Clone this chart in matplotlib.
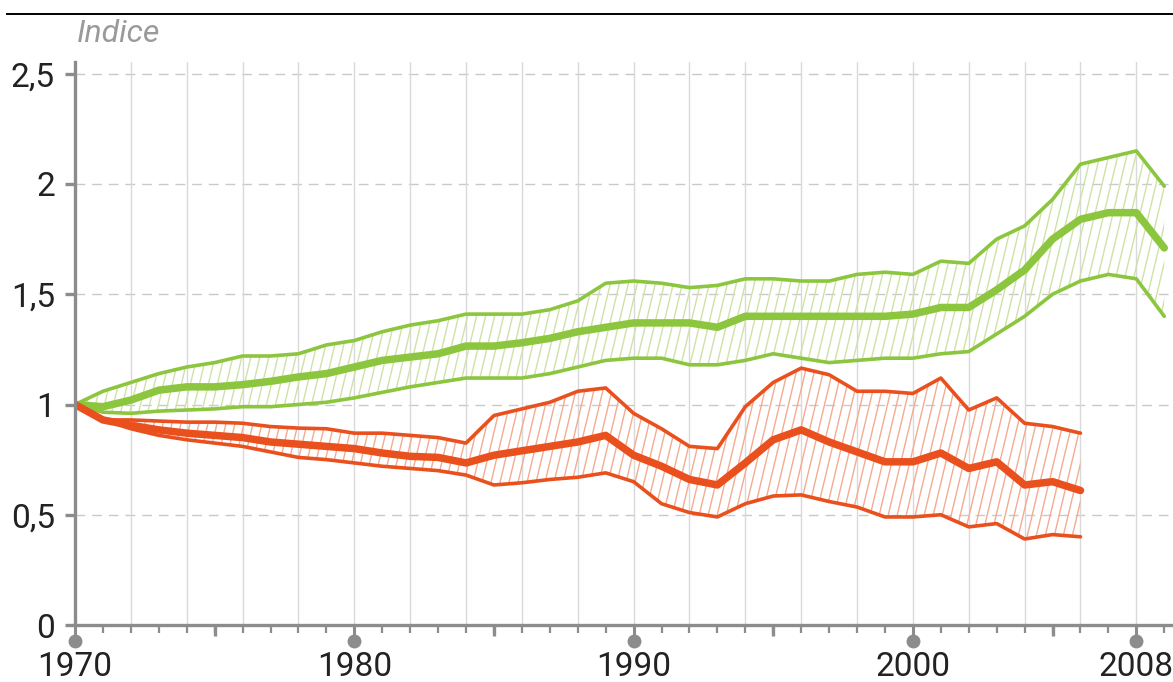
import numpy as np
import matplotlib
matplotlib.use("Agg")
import matplotlib.pyplot as plt
from matplotlib.collections import LineCollection
from matplotlib.lines import Line2D

# ---------------- data ----------------
years_green = list(range(1970, 2010))
green_mid = [1.00, 0.99, 1.02, 1.065, 1.08, 1.08, 1.09, 1.105, 1.125, 1.14,
             1.17, 1.20, 1.215, 1.23, 1.265, 1.265, 1.28, 1.30, 1.33, 1.35,
             1.37, 1.37, 1.37, 1.35, 1.40, 1.40, 1.40, 1.40, 1.40, 1.40,
             1.41, 1.44, 1.44, 1.52, 1.61, 1.75, 1.84, 1.87, 1.87, 1.71]
green_up = [1.00, 1.06, 1.10, 1.14, 1.17, 1.19, 1.22, 1.22, 1.23, 1.27,
            1.29, 1.33, 1.36, 1.38, 1.41, 1.41, 1.41, 1.43, 1.47, 1.55,
            1.56, 1.55, 1.53, 1.54, 1.57, 1.57, 1.56, 1.56, 1.59, 1.60,
            1.59, 1.65, 1.64, 1.75, 1.81, 1.93, 2.09, 2.12, 2.15, 1.99]
green_lo = [1.00, 0.965, 0.96, 0.97, 0.975, 0.98, 0.99, 0.99, 1.00, 1.01,
            1.03, 1.055, 1.08, 1.10, 1.12, 1.12, 1.12, 1.14, 1.17, 1.20,
            1.21, 1.21, 1.18, 1.18, 1.20, 1.23, 1.21, 1.19, 1.20, 1.21,
            1.21, 1.23, 1.24, 1.32, 1.40, 1.50, 1.56, 1.59, 1.57, 1.40]

years_red = list(range(1970, 2007))
red_up = [1.00, 0.93, 0.93, 0.925, 0.92, 0.92, 0.915, 0.90, 0.893, 0.89,
          0.87, 0.87, 0.86, 0.85, 0.825, 0.95, 0.98, 1.01, 1.06, 1.075,
          0.96, 0.89, 0.81, 0.80, 0.99, 1.10, 1.165, 1.135, 1.06, 1.06,
          1.05, 1.12, 0.975, 1.03, 0.915, 0.90, 0.87]
red_mid = [1.00, 0.93, 0.906, 0.885, 0.87, 0.86, 0.85, 0.83, 0.82, 0.81,
           0.80, 0.78, 0.765, 0.76, 0.735, 0.77, 0.79, 0.81, 0.83, 0.86,
           0.77, 0.72, 0.66, 0.635, 0.735, 0.84, 0.885, 0.83, 0.785, 0.74,
           0.74, 0.78, 0.71, 0.74, 0.635, 0.65, 0.61]
red_lo = [1.00, 0.93, 0.89, 0.86, 0.84, 0.825, 0.81, 0.785, 0.76, 0.75,
          0.735, 0.72, 0.71, 0.70, 0.68, 0.635, 0.645, 0.66, 0.67, 0.69,
          0.65, 0.55, 0.51, 0.49, 0.55, 0.585, 0.59, 0.56, 0.535, 0.49,
          0.49, 0.50, 0.445, 0.46, 0.39, 0.41, 0.40]

x_major = [1970, 1980, 1990, 2000, 2008]
x_major_labels = ["1970", "1980", "1990", "2000", "2008"]
x_mid = [1975, 1985, 1995, 2005]
y_ticks = [0, 0.5, 1, 1.5, 2, 2.5]
y_labels = ["0", "0,5", "1", "1,5", "2", "2,5"]
y_title = "Indice"

# ---------------- style ----------------
GREEN = "#8cc63e"
GREEN_H = "#cde3a6"
RED = "#e9501e"
RED_H = "#f5ab90"
AXC = "#8c8c8c"
FONT = "Roboto"
TXT = "#222222"

W, H = 1173, 682
fig = plt.figure(figsize=(W / 100, H / 100), dpi=100)
ax_l, ax_r, ax_t, ax_b = 75, 1173, 62, 625
ax = fig.add_axes([ax_l / W, 1 - ax_b / H, (ax_r - ax_l) / W, (ax_b - ax_t) / H])
xmin = 1970
xmax = 1970 + (ax_r - ax_l) / 27.93
ymax = (ax_b - ax_t) / 220.5
ax.set_xlim(xmin, xmax)
ax.set_ylim(0, ymax)

# grid
for yv in y_ticks[1:]:
    ax.axhline(yv, color="#c9c9c9", lw=1.0, dashes=(7, 5), zorder=1)
for xv in range(1972, 2010, 2):
    ax.axvline(xv, color="#d9d9d9", lw=1.0, zorder=1)

# hatched bands
px_per_year = 27.93
px_per_unit = 220.5
slope = 4.2 * px_per_year / px_per_unit  # data units per year


def hatched_band(xs, lo, up, color):
    poly = ax.fill_between(xs, lo, up, facecolor="none", edgecolor="none", zorder=2)
    spacing = 9 / px_per_year
    starts = np.arange(1955, 2012, spacing)
    segs = [[(s, 0), (s + ymax / slope, ymax)] for s in starts]
    lc = LineCollection(segs, colors=color, linewidths=1.0, zorder=2)
    ax.add_collection(lc)
    lc.set_clip_path(poly.get_paths()[0], ax.transData)


hatched_band(years_green, green_lo, green_up, GREEN_H)
hatched_band(years_red, red_lo, red_up, RED_H)

kw = dict(solid_joinstyle="round", solid_capstyle="round")
ax.plot(years_green, green_up, color=GREEN, lw=2.6, zorder=3, **kw)
ax.plot(years_green, green_lo, color=GREEN, lw=2.6, zorder=3, **kw)
ax.plot(years_green, green_mid, color=GREEN, lw=5.4, zorder=4, **kw)
ax.plot(years_red, red_up, color=RED, lw=2.6, zorder=5, **kw)
ax.plot(years_red, red_lo, color=RED, lw=2.6, zorder=5, **kw)
ax.plot(years_red, red_mid, color=RED, lw=5.4, zorder=6, **kw)

# spines
for s in ["top", "right"]:
    ax.spines[s].set_visible(False)
for s in ["left", "bottom"]:
    ax.spines[s].set_color(AXC)
    ax.spines[s].set_linewidth(2.4)
    ax.spines[s].set_zorder(7)

# y ticks
ax.set_yticks(y_ticks)
ax.set_yticklabels(y_labels)
ax.tick_params(axis="y", direction="out", length=7.5, width=2.4, color=AXC,
               pad=7, labelsize=24, labelcolor=TXT)

# x ticks
ax.set_xticks(x_major)
ax.set_xticklabels(x_major_labels)
ax.set_xticks(range(1971, 2010), minor=True)
ax.tick_params(axis="x", which="major", direction="out", length=11, width=2.2,
               color=AXC, pad=8, labelsize=24, labelcolor=TXT)
ax.tick_params(axis="x", which="minor", direction="out", length=6, width=1.6,
               color=AXC)
for lbl in ax.get_xticklabels() + ax.get_yticklabels():
    lbl.set_fontfamily(FONT)

xt = ax.get_xaxis_transform()
h_ax = ax_b - ax_t
ax.vlines(x_mid, -11 / h_ax, 0, transform=xt, colors=AXC, lw=2.4, clip_on=False, zorder=7)
ax.plot(x_major, [-16 / h_ax] * len(x_major), "o", ms=9, color=AXC,
        transform=xt, clip_on=False, zorder=7)

# title-ish text and top rule
fig.text(77 / W, 1 - 34 / H, y_title, style="italic", color="#9a9a9a",
         fontsize=23, va="center", ha="left", family=FONT)
fig.add_artist(Line2D([7 / W, 1], [1 - 14 / H, 1 - 14 / H], color="black", lw=1.4))

fig.savefig("out.png", dpi=100)
